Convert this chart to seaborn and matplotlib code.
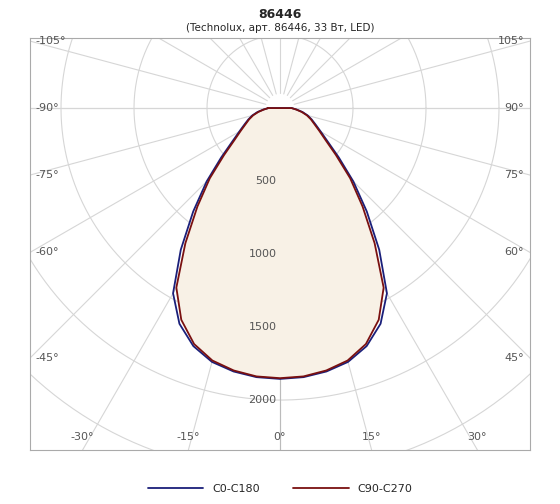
import numpy as np
import matplotlib
matplotlib.use("Agg")
import matplotlib.pyplot as plt
import seaborn as sns

sns.set_theme(style="white")
plt.rcParams['font.family'] = ['DejaVu Sans']

# Intensity, cd, at gamma 0..90 step 5 (symmetric)
gamma = [0, 5, 10, 15, 20, 25, 30, 35, 40, 45, 50, 55, 60, 65, 70, 75, 80, 85, 90]
c0_c180 = [1855, 1850, 1832, 1800, 1735, 1630, 1465, 1185, 925, 710, 525, 398, 322, 270, 232, 197, 157, 114, 80]
c90_c270 = [1850, 1845, 1825, 1790, 1720, 1600, 1420, 1130, 880, 680, 500, 380, 310, 260, 225, 190, 150, 110, 80]
radial_ticks = [500, 1000, 1500, 2000]
angle_ticks = [-105, -90, -75, -60, -45, -30, -15, 0, 15, 30, 45, 60, 75, 90, 105]

XL, YT, YB = 1712, 480, -2342

def to_xy(g, r):
    g = np.radians(np.concatenate([-np.array(g[::-1]), np.array(g[1:])]))
    r = np.concatenate([np.array(r[::-1]), np.array(r[1:])])
    x, y = r * np.sin(g), -r * np.cos(g)
    return np.append(x, x[0]), np.append(y, y[0])

fig = plt.figure(figsize=(5.6, 5.04), dpi=100)
ax = fig.add_axes([30/560, 54/504, 500/560, 412/504])
ax.set_xlim(-XL, XL)
ax.set_ylim(YB, YT)
ax.set_aspect('equal')
ax.set_xticks([]); ax.set_yticks([])
for s in ax.spines.values():
    s.set_color('#aaaaaa'); s.set_linewidth(0.8)

grid = '#d6d6d6'
t = np.linspace(0, 2*np.pi, 400)
for r in range(500, 3000, 500):
    ax.plot(r*np.cos(t), r*np.sin(t), color=grid, lw=0.8, zorder=1)
for a in range(0, 360, 15):
    ar = np.radians(a)
    ax.plot([100*np.sin(ar), 4000*np.sin(ar)], [-100*np.cos(ar), -4000*np.cos(ar)],
            color=grid, lw=0.8, zorder=1)
ax.plot([0, 0], [0, YB], color='#bbbbbb', lw=0.8, zorder=1)
ax.axhline(0, color=grid, lw=0.8, zorder=1)

x2, y2 = to_xy(gamma, c90_c270)
ax.fill(x2, y2, color='#f8f1e6', zorder=2)
x1, y1 = to_xy(gamma, c0_c180)
ax.plot(x1, y1, color='#1a1f7a', lw=1.3, zorder=3, label='C0-C180', solid_joinstyle='round')
ax.plot(x2, y2, color='#7a1010', lw=1.3, zorder=4, label='C90-C270', solid_joinstyle='round')

for r in radial_ticks:
    ax.text(-25, -r, str(r), ha='right', va='center', fontsize=8, color='#555555', zorder=5)

# angle labels at the border
for a in angle_ticks:
    ar = np.radians(a)
    dx, dy = np.sin(ar), -np.cos(ar)
    ts = []
    if dx != 0:
        ts.append((XL if dx > 0 else -XL) / dx)
    if dy != 0:
        ts.append((YT if dy > 0 else YB) / dy)
    tt = min(v for v in ts if v > 0)
    px, py = dx*tt, dy*tt
    ha = 'center'
    if abs(px) >= XL - 1:
        ha = 'left' if px < 0 else 'right'
        px += 40 if px < 0 else -40
    if py <= YB + 1:
        py += 90
    if py >= YT - 1:
        py -= 80
        px += 60 if px < 0 else -60
    ax.text(px, py, f"{a}°", ha=ha, va='center', fontsize=8, color='#555555', zorder=5)

fig.text(0.5, 0.985, '86446', ha='center', va='top', fontsize=9, fontweight='bold')
fig.text(0.5, 0.955, '(Technolux, арт. 86446, 33 Вт, LED)', ha='center', va='top', fontsize=7.5)
fig.legend(loc='lower center', bbox_to_anchor=(0.5, 0.0), ncol=2, frameon=False,
           fontsize=8, handlelength=5, columnspacing=3)

fig.savefig('out.png', dpi=100)
